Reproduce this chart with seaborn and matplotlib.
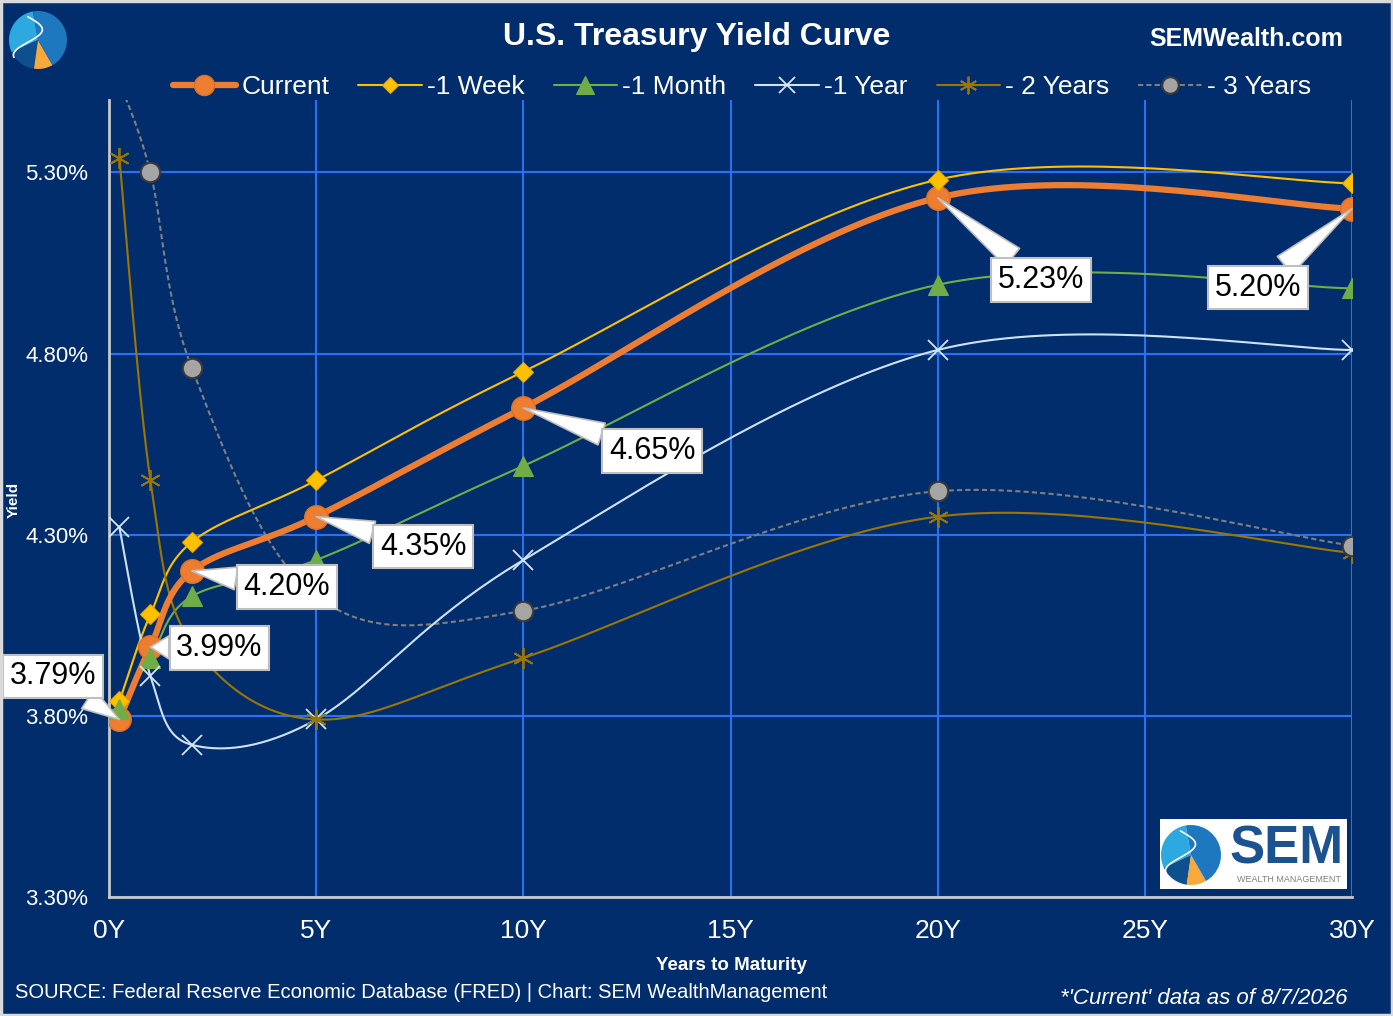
import numpy as np
import pandas as pd
import seaborn as sns
import matplotlib.pyplot as plt
from matplotlib.lines import Line2D
from matplotlib.patches import Rectangle, Wedge

# maturities (years) and treasury yields (%)
maturity = [0.25, 1, 2, 5, 10, 20, 30]
current = [3.79, 3.99, 4.20, 4.35, 4.65, 5.23, 5.20]
week_ago = [3.84, 4.08, 4.28, 4.45, 4.75, 5.28, 5.27]
month_ago = [3.82, 3.96, 4.13, 4.23, 4.49, 4.99, 4.98]
year_ago = [4.32, 3.91, 3.72, 3.79, 4.23, 4.81, 4.81]
two_years_ago = [5.34, 4.45, 4.00, 3.79, 3.96, 4.35, 4.25]
three_years_ago = [5.55, 5.30, 4.76, 4.13, 4.09, 4.42, 4.27]

series_names = ['Current', '-1 Week', '-1 Month', '-1 Year', '- 2 Years', '- 3 Years']
x_ticks = [0, 5, 10, 15, 20, 25, 30]
x_labels = ['0Y', '5Y', '10Y', '15Y', '20Y', '25Y', '30Y']
y_ticks = [3.30, 3.80, 4.30, 4.80, 5.30]

# callout offsets (pixels) for the current-curve labels
label_offsets = [(-66, 43), (69, -1), (95, -16), (107, -30), (129, -43), (103, -82), (-94, -79)]

BG = '#012D6D'
GRID = '#2672F2'

sns.set_theme(style='white')
plt.rcParams['font.family'] = ['Liberation Sans', 'DejaVu Sans']

fig = plt.figure(figsize=(13.93, 10.16), dpi=100, facecolor=BG)
ax = fig.add_axes([109/1393, 119/1016, 1243/1393, 797/1016])
ax.set_facecolor(BG)
ax.set_xlim(0, 30)
ax.set_ylim(3.3, 5.5)


def smooth(xs, ys, n=40):
    # excel-like smoothed line: bezier through points in screen space
    pts = ax.transData.transform(np.column_stack([xs, ys]))
    p = np.vstack([pts[0], pts, pts[-1]])
    t = np.linspace(0, 1, n)[:, None]
    out = []
    for i in range(1, len(p) - 2):
        p0, p3 = p[i], p[i + 1]
        c1 = p0 + (p[i + 1] - p[i - 1]) / 6
        c2 = p3 - (p[i + 2] - p[i]) / 6
        seg = (1 - t)**3*p0 + 3*(1 - t)**2*t*c1 + 3*(1 - t)*t**2*c2 + t**3*p3
        out.append(seg if i == 1 else seg[1:])
    out = ax.transData.inverted().transform(np.vstack(out))
    return out[:, 0], out[:, 1]


styles = [
    dict(y=current, color='#ED7D31', lw=4.5, ls='-', marker='o', ms=17, mfc='#ED7D31', mec='#E0701F', mew=1, z=4),
    dict(y=week_ago, color='#FFC000', lw=1.5, ls='-', marker='D', ms=10, mfc='#FFC000', mec='#E8A800', mew=0.8, z=3),
    dict(y=month_ago, color='#70AD47', lw=1.5, ls='-', marker='^', ms=15, mfc='#70AD47', mec='#70AD47', mew=0.8, z=3),
    dict(y=year_ago, color='#CFE2F3', lw=1.5, ls='-', marker='x', ms=14, mfc='none', mec='#D6E6F5', mew=1.3, z=3),
    dict(y=two_years_ago, color='#9C7600', lw=1.5, ls='-', marker=(6, 2, 0), ms=15, mfc='none', mec='#9C7600', mew=1.3, z=3),
    dict(y=three_years_ago, color='#7F7F7F', lw=1.5, ls=(0, (2.5, 1.5)), marker='o', ms=14, mfc='#A5A5A5', mec='#3A3A3A', mew=1.5, z=2.8),
]

handles = []
for name, s in zip(series_names, styles):
    sx, sy = smooth(maturity, s['y'])
    sns.lineplot(x=sx, y=sy, ax=ax, sort=False, estimator=None, color=s['color'],
                 lw=s['lw'], linestyle=s['ls'], zorder=s['z'])
    mz = 4.5 if name == 'Current' else 5
    ax.plot(maturity, s['y'], linestyle='none', marker=s['marker'], ms=s['ms'],
            mfc=s['mfc'], mec=s['mec'], mew=s['mew'], zorder=mz)
    handles.append(Line2D([], [], color=s['color'], lw=s['lw'], linestyle=s['ls'],
                          marker=s['marker'], ms=s['ms'] * 0.85, mfc=s['mfc'],
                          mec=s['mec'], mew=s['mew']))

# callouts on the current curve
for xv, yv, (dx, dy) in zip(maturity, current, label_offsets):
    ax.annotate(f'{yv:.2f}%', xy=(xv, yv), xytext=(dx, dy), textcoords='offset pixels',
                ha='center', va='center', fontsize=22, color='black', zorder=10,
                annotation_clip=False,
                bbox=dict(boxstyle='square,pad=0.22', fc='white', ec='#BFBFBF', lw=1.5),
                arrowprops=dict(arrowstyle='wedge,tail_width=0.75,shrink_factor=0.5',
                                fc='white', ec='#BFBFBF', lw=1.2, shrinkA=0, shrinkB=0))

# axes styling
ax.set_xticks(x_ticks)
ax.set_xticklabels(x_labels)
ax.set_yticks(y_ticks)
ax.set_yticklabels([f'{v:.2f}%' for v in y_ticks])
ax.tick_params(axis='x', length=0, colors='white', labelsize=19, pad=16)
ax.tick_params(axis='y', length=0, colors='white', labelsize=16, pad=15)
ax.grid(True, color=GRID, lw=1.5)
ax.set_axisbelow(True)
for side in ['top', 'right']:
    ax.spines[side].set_visible(False)
for side in ['left', 'bottom']:
    ax.spines[side].set_color('#C8C8C8')
    ax.spines[side].set_linewidth(2)
ax.set_xlabel('')
ax.set_ylabel('')

# titles and notes
fig.text(0.5, 1 - 37/1016, 'U.S. Treasury Yield Curve', ha='center', va='center',
         fontsize=23, fontweight='bold', color='white')
fig.text(1246/1393, 1 - 39/1016, 'SEMWealth.com', ha='center', va='center',
         fontsize=18, fontweight='bold', color='white')
fig.text(14/1393, 1 - 500/1016, 'Yield', rotation=90, ha='center', va='center',
         fontsize=11, fontweight='bold', color='white')
fig.text(731/1393, 1 - 966/1016, 'Years to Maturity', ha='center', va='center',
         fontsize=13.5, fontweight='bold', color='white')
fig.text(15/1393, 1 - 993/1016,
         'SOURCE: Federal Reserve Economic Database (FRED) | Chart: SEM WealthManagement',
         ha='left', va='center', fontsize=14.5, color='white')
fig.text(1348/1393, 1 - 998/1016, "*'Current' data as of 8/7/2026", ha='right', va='center',
         fontsize=16, fontstyle='italic', color='white')

fig.legend(handles, series_names, loc='center', bbox_to_anchor=(742/1393, 1 - 87/1016),
           ncol=6, frameon=False, fontsize=19, labelcolor='white', handlelength=2.4,
           handletextpad=0.2, columnspacing=1.1)


# logos
def draw_pie(cx, cy, r):
    lax = fig.add_axes([(cx - r)/1393, 1 - (cy + r)/1016, 2*r/1393, 2*r/1016], zorder=7)
    lax.set_xlim(-1, 1)
    lax.set_ylim(-1, 1)
    lax.axis('off')
    parts = [(100, 205, '#2DA8E0'), (205, 262, '#0D4F8F'), (262, 300, '#F7A93B'),
             (300, 460, '#1E78C0')]
    for a0, a1, c in parts:
        lax.add_patch(Wedge((0, 0), 1, a0, a1, fc=c, ec='none'))
    tt = np.linspace(0, 1, 50)
    lax.plot(-0.35 + 0.5*np.sin(tt*5), 0.8 - 1.4*tt, color='white', lw=1.2)


draw_pie(38, 40, 29)
fig.patches.append(Rectangle((1160/1393, 1 - 889/1016), 187/1393, 70/1016,
                             transform=fig.transFigure, fc='white', ec='none', zorder=5))
draw_pie(1191, 855, 30)
fig.text(1287/1393, 1 - 849/1016, 'SEM', ha='center', va='center', fontsize=38,
         fontweight='bold', color='#1B5290', zorder=6)
fig.text(1289/1393, 1 - 880/1016, 'WEALTH MANAGEMENT', ha='center', va='center',
         fontsize=6.5, color='#7F7F7F', zorder=6)

# outer border
fig.patches.append(Rectangle((0.001, 0.001), 0.998, 0.998, transform=fig.transFigure,
                             fc='none', ec='#D9D9D9', lw=2.5, zorder=20))

fig.savefig('out.png', dpi=100, facecolor=BG)
